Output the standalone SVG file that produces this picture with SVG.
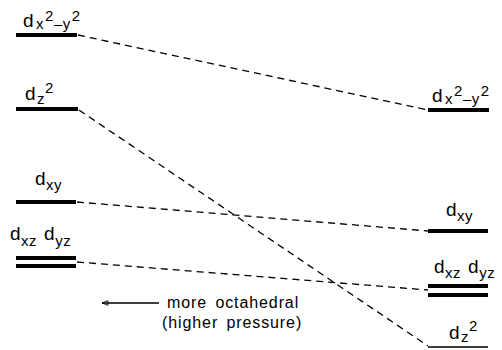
<svg xmlns="http://www.w3.org/2000/svg" width="502" height="350" viewBox="0 0 502 350">
<defs>
<style>
text{font-family:"Liberation Sans",Arial,sans-serif;fill:#000;}
.lbl{font-size:19px;letter-spacing:0.5px;}
.sub{font-size:15px;}
.bar{stroke:#000;stroke-width:4;}
.thin{stroke:#000;stroke-width:1.5;}
.dash{stroke:#000;stroke-width:1.3;stroke-dasharray:7,5;fill:none;}
.note{font-size:16px;letter-spacing:0.9px;word-spacing:3px;}
</style>
<marker id="ah" viewBox="0 0 10 10" refX="0" refY="5" markerWidth="7" markerHeight="6" orient="auto" markerUnits="userSpaceOnUse">
<path d="M10,1 L0,5 L10,9 Z" fill="none" stroke="#000" stroke-width="1.4"/>
</marker>
</defs>
<rect width="502" height="350" fill="#fff"/>
<g id="connectors">
<line class="dash" x1="78" y1="35" x2="428" y2="110"/>
<line class="dash" x1="79" y1="110" x2="428" y2="346"/>
<line class="dash" x1="77" y1="202" x2="428" y2="231"/>
<line class="dash" x1="77" y1="262" x2="428" y2="290"/>
</g>
<g id="left-dx2y2">
<line class="bar" x1="16" y1="35" x2="77" y2="35"/>
<text class="lbl" x="23" y="27">d<tspan class="sub" dx="2" dy="2">x</tspan><tspan class="sub" dx="1" dy="-8">2</tspan><tspan class="sub" dy="8">–</tspan><tspan class="sub" dy="0">y</tspan><tspan class="sub" dx="1" dy="-8">2</tspan></text>
</g>
<g id="left-dz2">
<line class="bar" x1="16" y1="109" x2="78" y2="109"/>
<text class="lbl" x="25" y="100">d<tspan class="sub" dx="1" dy="4">z</tspan><tspan class="sub" dy="-11">2</tspan></text>
</g>
<g id="left-dxy">
<line class="bar" x1="16" y1="202" x2="76" y2="202"/>
<text class="lbl" x="35" y="185">d<tspan class="sub" dy="5">xy</tspan></text>
</g>
<g id="left-dxzdyz">
<line class="bar" x1="16" y1="258" x2="76" y2="258"/>
<line class="bar" x1="16" y1="266" x2="76" y2="266"/>
<text class="lbl" x="10" y="240">d<tspan class="sub" dy="6">xz</tspan><tspan dx="7" dy="-6">d</tspan><tspan class="sub" dy="6">yz</tspan></text>
</g>
<g id="right-dx2y2">
<line class="bar" x1="428" y1="110" x2="489" y2="110"/>
<text class="lbl" x="432" y="102">d<tspan class="sub" dx="2" dy="2">x</tspan><tspan class="sub" dx="1" dy="-8">2</tspan><tspan class="sub" dy="8">–</tspan><tspan class="sub" dy="0">y</tspan><tspan class="sub" dx="1" dy="-8">2</tspan></text>
</g>
<g id="right-dxy">
<line class="bar" x1="428" y1="231" x2="488" y2="231"/>
<text class="lbl" x="446" y="216">d<tspan class="sub" dy="5">xy</tspan></text>
</g>
<g id="right-dxzdyz">
<line class="bar" x1="428" y1="286" x2="488" y2="286"/>
<line class="bar" x1="428" y1="295" x2="488" y2="295"/>
<text class="lbl" x="434" y="273">d<tspan class="sub" dy="5">xz</tspan><tspan dx="7" dy="-5">d</tspan><tspan class="sub" dy="5">yz</tspan></text>
</g>
<g id="right-dz2">
<line class="thin" x1="428" y1="347" x2="488" y2="347"/>
<text class="lbl" x="449" y="339">d<tspan class="sub" dx="1" dy="3">z</tspan><tspan class="sub" dy="-11">2</tspan></text>
</g>
<g id="note">
<line x1="102" y1="303" x2="159" y2="303" stroke="#000" stroke-width="1.3" marker-start="url(#ah)"/>
<text class="note" x="167" y="308">more octahedral</text>
<text class="note" x="162" y="328">(higher pressure)</text>
</g>
</svg>
